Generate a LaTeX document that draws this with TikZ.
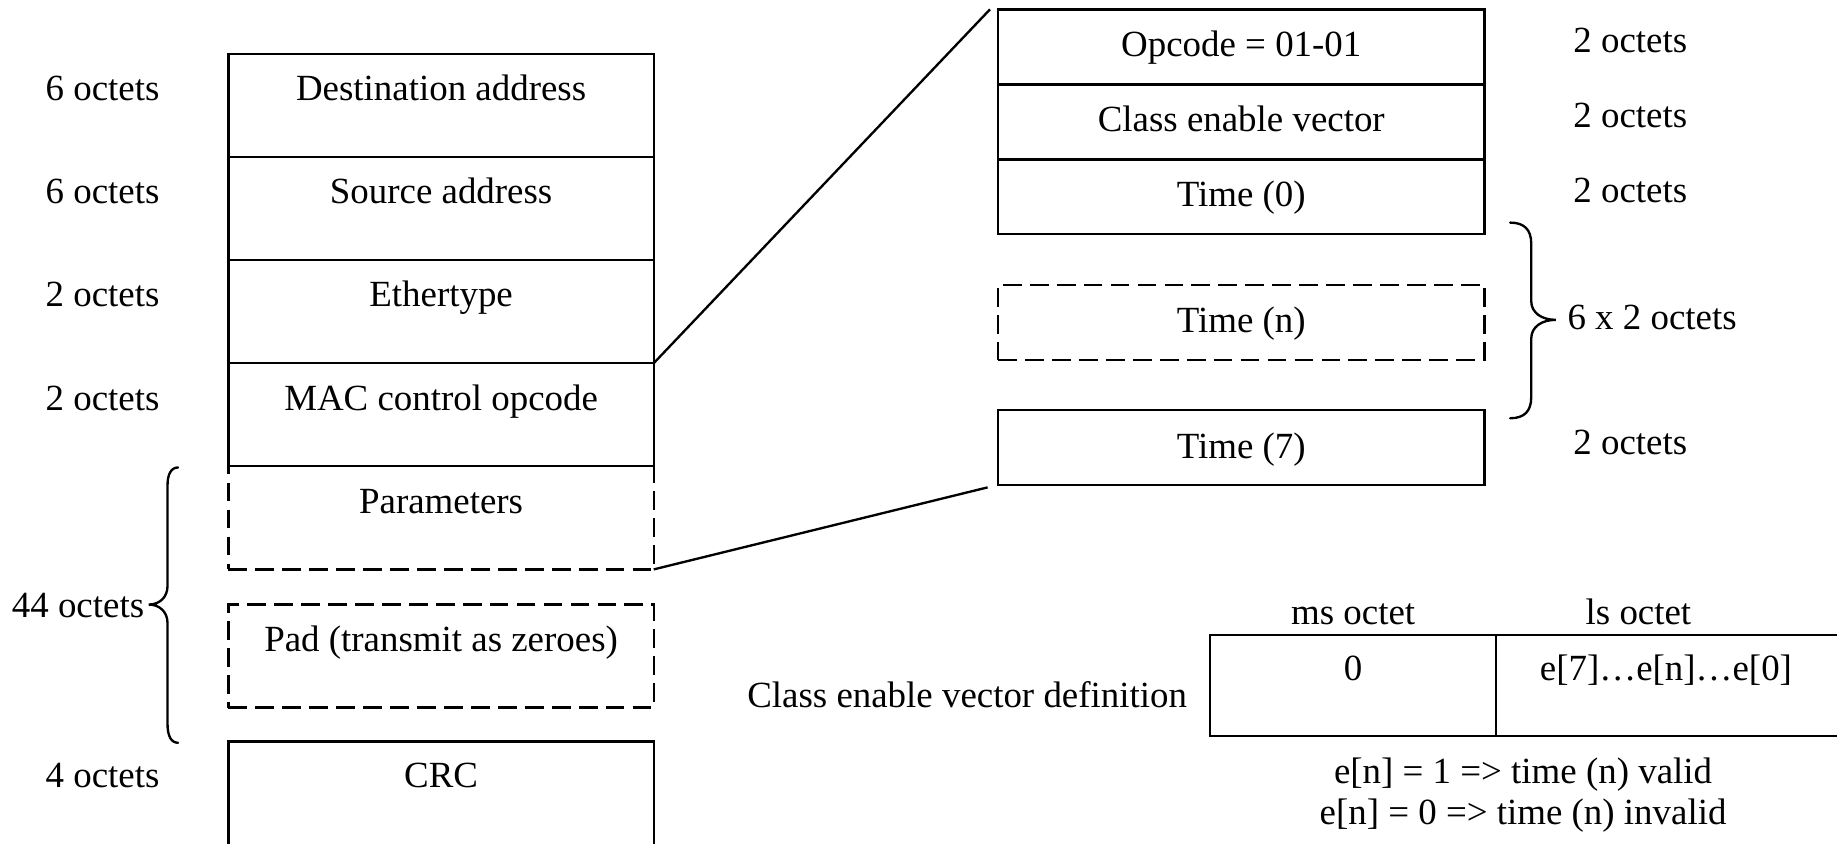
\documentclass[tikz,border=0pt]{standalone}
\usepackage{fontspec}
\setmainfont{Liberation Serif}
% One unit = 0.5pt, y grows downwards
\tikzset{
  every node/.style={font=\fontsize{15.75pt}{19pt}\selectfont, inner sep=0pt, outer sep=0pt},
  txt/.style={anchor=base},
  field/.style={draw, rectangle, line width=1pt, inner sep=0pt, outer sep=0pt},
  optfield/.style={field, dash pattern=on 8pt off 3.5pt},
  lfield/.style={field, minimum width=181.5pt, minimum height=44pt},
  loptfield/.style={optfield, minimum width=181.5pt, minimum height=44pt},
  rfield/.style={field, minimum width=207.5pt, minimum height=32pt},
  roptfield/.style={optfield, minimum width=207.5pt, minimum height=32pt},
  link/.style={line width=1pt},
  brace/.style={line width=1pt, line cap=round},
}
\begin{document}
\begin{tikzpicture}[x=0.5pt, y=-0.5pt]
\useasboundingbox (0,0) rectangle (1568,720);
\clip (0,0) rectangle (1568,720);

% ---- MAC control frame ----
\node[lfield] (dest) at (376.5,90) {};
\node[lfield] (src) at (376.5,178) {};
\node[lfield] (eth) at (376.5,266) {};
\node[lfield] (mac) at (376.5,354) {};
\node[loptfield] (params) at (376.5,442) {};
\node[loptfield] (pad) at (376.5,560) {};
\node[field, minimum width=181.5pt, minimum height=65pt] (crc) at (376.5,698) {};

\node[txt] (tdest) at (376.5,86) {Destination address};
\node[txt] (tsrc) at (376.5,174) {Source address};
\node[txt] (teth) at (376.5,262) {Ethertype};
\node[txt] (tmac) at (376.5,350) {MAC control opcode};
\node[txt] (tparams) at (376.5,438) {Parameters};
\node[txt] (tpad) at (376.5,556) {Pad (transmit as zeroes)};
\node[txt] (tcrc) at (376.5,672) {CRC};

% field sizes
\node[txt] (sdest) at (87.5,86) {6 octets};
\node[txt] (ssrc) at (87.5,174) {6 octets};
\node[txt] (seth) at (87.5,262) {2 octets};
\node[txt] (smac) at (87.5,350) {2 octets};
\node[txt, anchor=base east] (sdata) at (123,527) {44 octets};
\node[txt] (scrc) at (87.5,672) {4 octets};

% brace over parameters and pad
\draw[brace] (152,399) .. controls (146,399) and (143,405) .. (143,414)
  -- (143,500) .. controls (143,510) and (136,516) .. (127,516)
  .. controls (136,516) and (143,522) .. (143,532)
  -- (143,618) .. controls (143,628) and (146,634) .. (152,634);

% ---- PFC parameters ----
\node[rfield] (op) at (1059.5,40) {};
\node[rfield] (cev) at (1059.5,104) {};
\node[rfield] (t0) at (1059.5,168) {};
\node[roptfield] (tn) at (1059.5,275) {};
\node[rfield] (t7) at (1059.5,382) {};

\node[txt] (top) at (1059.5,48) {Opcode = 01-01};
\node[txt] (tcev) at (1059.5,112) {Class enable vector};
\node[txt] (tt0) at (1059.5,176) {Time (0)};
\node[txt] (ttn) at (1059.5,284) {Time (n)};
\node[txt] (tt7) at (1059.5,391) {Time (7)};

\node[txt, anchor=base west] (sop) at (1343,45) {2 octets};
\node[txt, anchor=base west] (scev) at (1343,109) {2 octets};
\node[txt, anchor=base west] (st0) at (1343,173) {2 octets};
\node[txt, anchor=base west] (stn) at (1338,281) {6 x 2 octets};
\node[txt, anchor=base west] (st7) at (1343,388) {2 octets};

% brace over the middle time fields
\draw[brace] (1289,190) .. controls (1301,190) and (1307,196) .. (1307,208)
  -- (1307,257) .. controls (1307,267) and (1316,273) .. (1328,273)
  .. controls (1316,273) and (1307,279) .. (1307,289)
  -- (1307,339) .. controls (1307,351) and (1301,357) .. (1289,357);

% expansion lines
\coordinate (zt) at (845,8);
\coordinate (zb) at (843,416);
\draw[link] (mac.north east) -- (zt);
\draw[link] (params.south east) -- (zb);

% ---- class enable vector definition ----
\node[field, minimum width=122pt, minimum height=43pt] (ms) at (1155,585) {};
\node[field, minimum width=171.5pt, minimum height=43pt] (ls) at (1448.5,585) {};
\node[txt] (tms) at (1155,533) {ms octet};
\node[txt] (tls) at (1398.5,533) {ls octet};
\node[txt] (vms) at (1155,581) {0};
\node[txt] (vls) at (1422,581) {e[7]…e[n]…e[0]};
\node[txt] (cdef) at (825.5,604) {Class enable vector definition};
\node[txt] (n1) at (1300,669) {e[n] = 1 => time (n) valid};
\node[txt] (n0) at (1300,704) {e[n] = 0 => time (n) invalid};
\end{tikzpicture}
\end{document}
